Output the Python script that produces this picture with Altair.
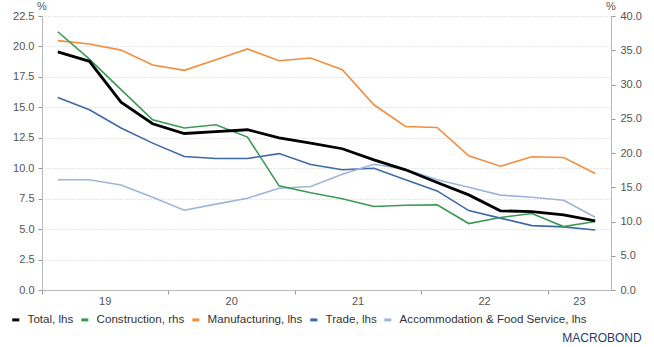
import altair as alt
import pandas as pd

# Quarterly series, 2019Q1 - 2023Q2
quarters = ["2019Q1", "2019Q2", "2019Q3", "2019Q4",
            "2020Q1", "2020Q2", "2020Q3", "2020Q4",
            "2021Q1", "2021Q2", "2021Q3", "2021Q4",
            "2022Q1", "2022Q2", "2022Q3", "2022Q4",
            "2023Q1", "2023Q2"]

total = [19.55, 18.78, 15.43, 13.65, 12.85, 13.0, 13.16, 12.5, 12.06,
         11.6, 10.69, 9.87, 8.83, 7.81, 6.5, 6.44, 6.17, 5.67]
construction = [37.7, 33.7, 29.25, 24.86, 23.65, 24.13, 22.33, 15.2, 14.2,
                13.31, 12.19, 12.38, 12.43, 9.7, 10.58, 11.16, 9.26, 9.99]
manufacturing = [20.48, 20.2, 19.7, 18.48, 18.04, 18.9, 19.8, 18.83, 19.05,
                 18.09, 15.21, 13.43, 13.35, 11.02, 10.17, 10.94, 10.88, 9.56]
trade = [15.8, 14.8, 13.3, 12.06, 10.96, 10.8, 10.8, 11.2, 10.3,
         9.87, 10.0, 9.05, 8.14, 6.52, 5.9, 5.29, 5.18, 4.93]
accommodation = [9.05, 9.05, 8.63, 7.62, 6.55, 7.05, 7.54, 8.36, 8.5,
                 9.51, 10.33, 9.92, 9.05, 8.44, 7.79, 7.62, 7.37, 5.98]

series_names = ["Total, lhs", "Construction, rhs", "Manufacturing, lhs",
                "Trade, lhs", "Accommodation & Food Service, lhs"]
series_colors = ["#000000", "#3a9a55", "#f28e3f", "#3d6aa6", "#9fb4dc"]
series_values = [total, construction, manufacturing, trade, accommodation]

lhs_ticks = [0, 2.5, 5, 7.5, 10, 12.5, 15, 17.5, 20, 22.5]
rhs_ticks = [0, 5, 10, 15, 20, 25, 30, 35, 40]
unit_label = "%"
brand = "MACROBOND"

W, H = 569, 274
FONT = "Liberation Sans"

# long table: one row per quarter and series, x at the middle of the quarter
rows = []
for name, vals in zip(series_names, series_values):
    for i, (q, v) in enumerate(zip(quarters, vals)):
        rows.append({"quarter": q, "x": i + 0.5, "series": name, "value": v})
df = pd.DataFrame(rows)

# year labels centred on the span of quarters each year covers
years = []
for i, q in enumerate(quarters):
    y = q[2:4]
    if not years or years[-1]["label"] != y:
        years.append({"label": y, "start": i, "end": i + 1})
    else:
        years[-1]["end"] = i + 1
year_df = pd.DataFrame([{"label": y["label"], "pos": (y["start"] + y["end"]) / 2}
                        for y in years])
year_starts = [y["start"] for y in years]

x_scale = alt.Scale(domain=[0, len(quarters)], nice=False, zero=False)
x_axis = alt.Axis(values=year_starts, labels=False, title=None, grid=False,
                  ticks=True, tickSize=4, tickColor="#999999",
                  domainColor="#bbbbbb")
color = alt.Color("series:N",
                  scale=alt.Scale(domain=series_names, range=series_colors),
                  sort=series_names,
                  legend=alt.Legend(title=None, orient="none", legendX=-32,
                                    legendY=298, direction="horizontal",
                                    symbolType="stroke", symbolSize=50,
                                    symbolStrokeWidth=3, labelOffset=6,
                                    columnPadding=1, labelLimit=0,
                                    labelFont=FONT, labelFontSize=11.6,
                                    labelColor="#333333"))

lhs_scale = alt.Scale(domain=[0, 22.5], nice=False, zero=True)
rhs_scale = alt.Scale(domain=[0, 40], nice=False, zero=True)

others = alt.Chart(df).transform_filter(
    alt.FieldOneOfPredicate(field="series",
                            oneOf=[series_names[2], series_names[3], series_names[4]])
).mark_line(strokeWidth=1.6).encode(
    x=alt.X("x:Q", scale=x_scale, axis=x_axis),
    y=alt.Y("value:Q", scale=lhs_scale,
            axis=alt.Axis(orient="left", values=lhs_ticks, format=".1f",
                          title=None, grid=True, gridColor="#cfcfcf",
                          gridDash=[1, 2], tickSize=4, tickColor="#999999",
                          domainColor="#bbbbbb", labelPadding=4,
                          labelFont=FONT, labelFontSize=11,
                          labelColor="#555555")),
    color=color,
    detail="series:N",
)

constr = alt.Chart(df).transform_filter(
    alt.FieldEqualPredicate(field="series", equal=series_names[1])
).mark_line(strokeWidth=1.6).encode(
    x=alt.X("x:Q", scale=x_scale, axis=x_axis),
    y=alt.Y("value:Q", scale=rhs_scale,
            axis=alt.Axis(orient="right", values=rhs_ticks, format=".1f",
                          title=None, grid=False, tickSize=4,
                          tickColor="#999999", domainColor="#bbbbbb",
                          labelPadding=5, labelFont=FONT, labelFontSize=11,
                          labelColor="#555555")),
    color=color,
)

tot = alt.Chart(df).transform_filter(
    alt.FieldEqualPredicate(field="series", equal=series_names[0])
).mark_line(strokeWidth=2.8).encode(
    x=alt.X("x:Q", scale=x_scale, axis=x_axis),
    y=alt.Y("value:Q", scale=lhs_scale, axis=None),
    color=color,
)

year_text = alt.Chart(year_df).mark_text(
    font=FONT, fontSize=11, color="#555555", baseline="middle"
).encode(
    x=alt.X("pos:Q", scale=x_scale, axis=x_axis),
    y=alt.value(H + 12),
    text="label:N",
)

unit_df = pd.DataFrame({"t": [unit_label]})
unit_left = alt.Chart(unit_df).mark_text(
    font=FONT, fontSize=11, color="#555555", baseline="middle"
).encode(x=alt.value(0), y=alt.value(-9), text="t:N")
unit_right = alt.Chart(unit_df).mark_text(
    font=FONT, fontSize=11, color="#555555", baseline="middle"
).encode(x=alt.value(W), y=alt.value(-9), text="t:N")

brand_df = pd.DataFrame({"t": [brand]})
brand_text = alt.Chart(brand_df).mark_text(
    font=FONT, fontSize=12, color="#24406e", baseline="middle", align="center"
).encode(x=alt.value(W - 9), y=alt.value(H + 48), text="t:N")

chart = alt.layer(
    others, constr, tot, year_text, unit_left, unit_right, brand_text
).resolve_scale(y="independent").properties(
    width=W, height=H,
    autosize=alt.AutoSizeParams(type="none"),
    padding={"left": 42, "top": 16, "right": 43, "bottom": 57},
    background="#ffffff",
).configure_view(stroke=None)

chart.save("out.html", embed_options={"renderer": "svg", "actions": False})
